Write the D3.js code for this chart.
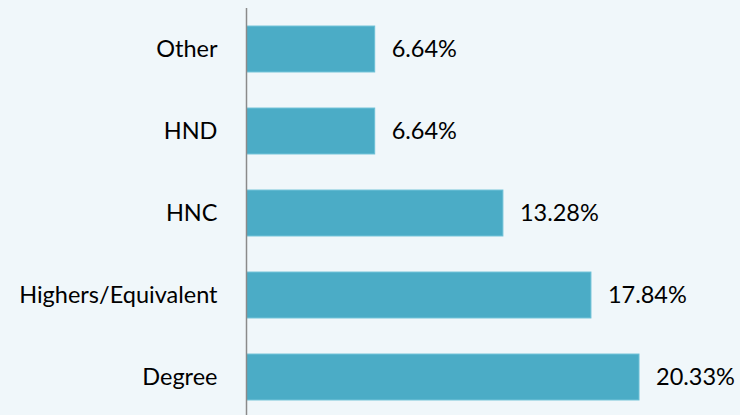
<!DOCTYPE html>
<html><head><meta charset="utf-8">
<script src="https://cdn.jsdelivr.net/npm/d3@7"></script>
<style>
html,body{margin:0;padding:0;background:#f0f7fa;}
svg{display:block;}
text{font-family:Lato,"Open Sans",sans-serif;fill:#000;}
</style></head>
<body>
<svg id="c" width="740" height="415"></svg>
<script>
const categories = ["Other", "HND", "HNC", "Highers/Equivalent", "Degree"];
const values = [6.64, 6.64, 13.28, 17.84, 20.33];
const valueLabels = ["6.64%", "6.64%", "13.28%", "17.84%", "20.33%"];

const svg = d3.select("#c");
svg.append("rect").attr("width",740).attr("height",415).attr("fill","#f0f7fa");

const x0 = 246.5;
const x = d3.scaleLinear().domain([0, 20.33]).range([x0, 639]);
const y = d3.scaleBand().domain(categories).range([8, 418]).paddingInner(0.44).paddingOuter(0.22);

svg.selectAll("rect.bar").data(categories).enter().append("rect")
  .attr("class","bar")
  .attr("x", x(0))
  .attr("y", d => y(d))
  .attr("width", (d,i) => x(values[i]) - x(0))
  .attr("height", y.bandwidth())
  .attr("fill", "#4bacc6")
  .attr("stroke", "#6cc0d6")
  .attr("stroke-width", 1);

const axis = d3.axisLeft(y).tickSize(0).tickPadding(29);
const g = svg.append("g").attr("transform", `translate(${x0},0)`).call(axis);
g.select(".domain").attr("stroke","#8a8a8a").attr("stroke-width",1.5).attr("d","M0,8V415");
g.selectAll("text").attr("font-size",23.5).attr("font-family","Lato, 'Open Sans', sans-serif").attr("fill","#000");

svg.selectAll("text.val").data(categories).enter().append("text")
  .attr("class","val")
  .attr("x", (d,i) => x(values[i]) + 17)
  .attr("y", d => y(d) + y.bandwidth()/2)
  .attr("dy","0.35em")
  .attr("font-size",23.5)
  .text((d,i) => valueLabels[i]);
</script>
</body></html>
